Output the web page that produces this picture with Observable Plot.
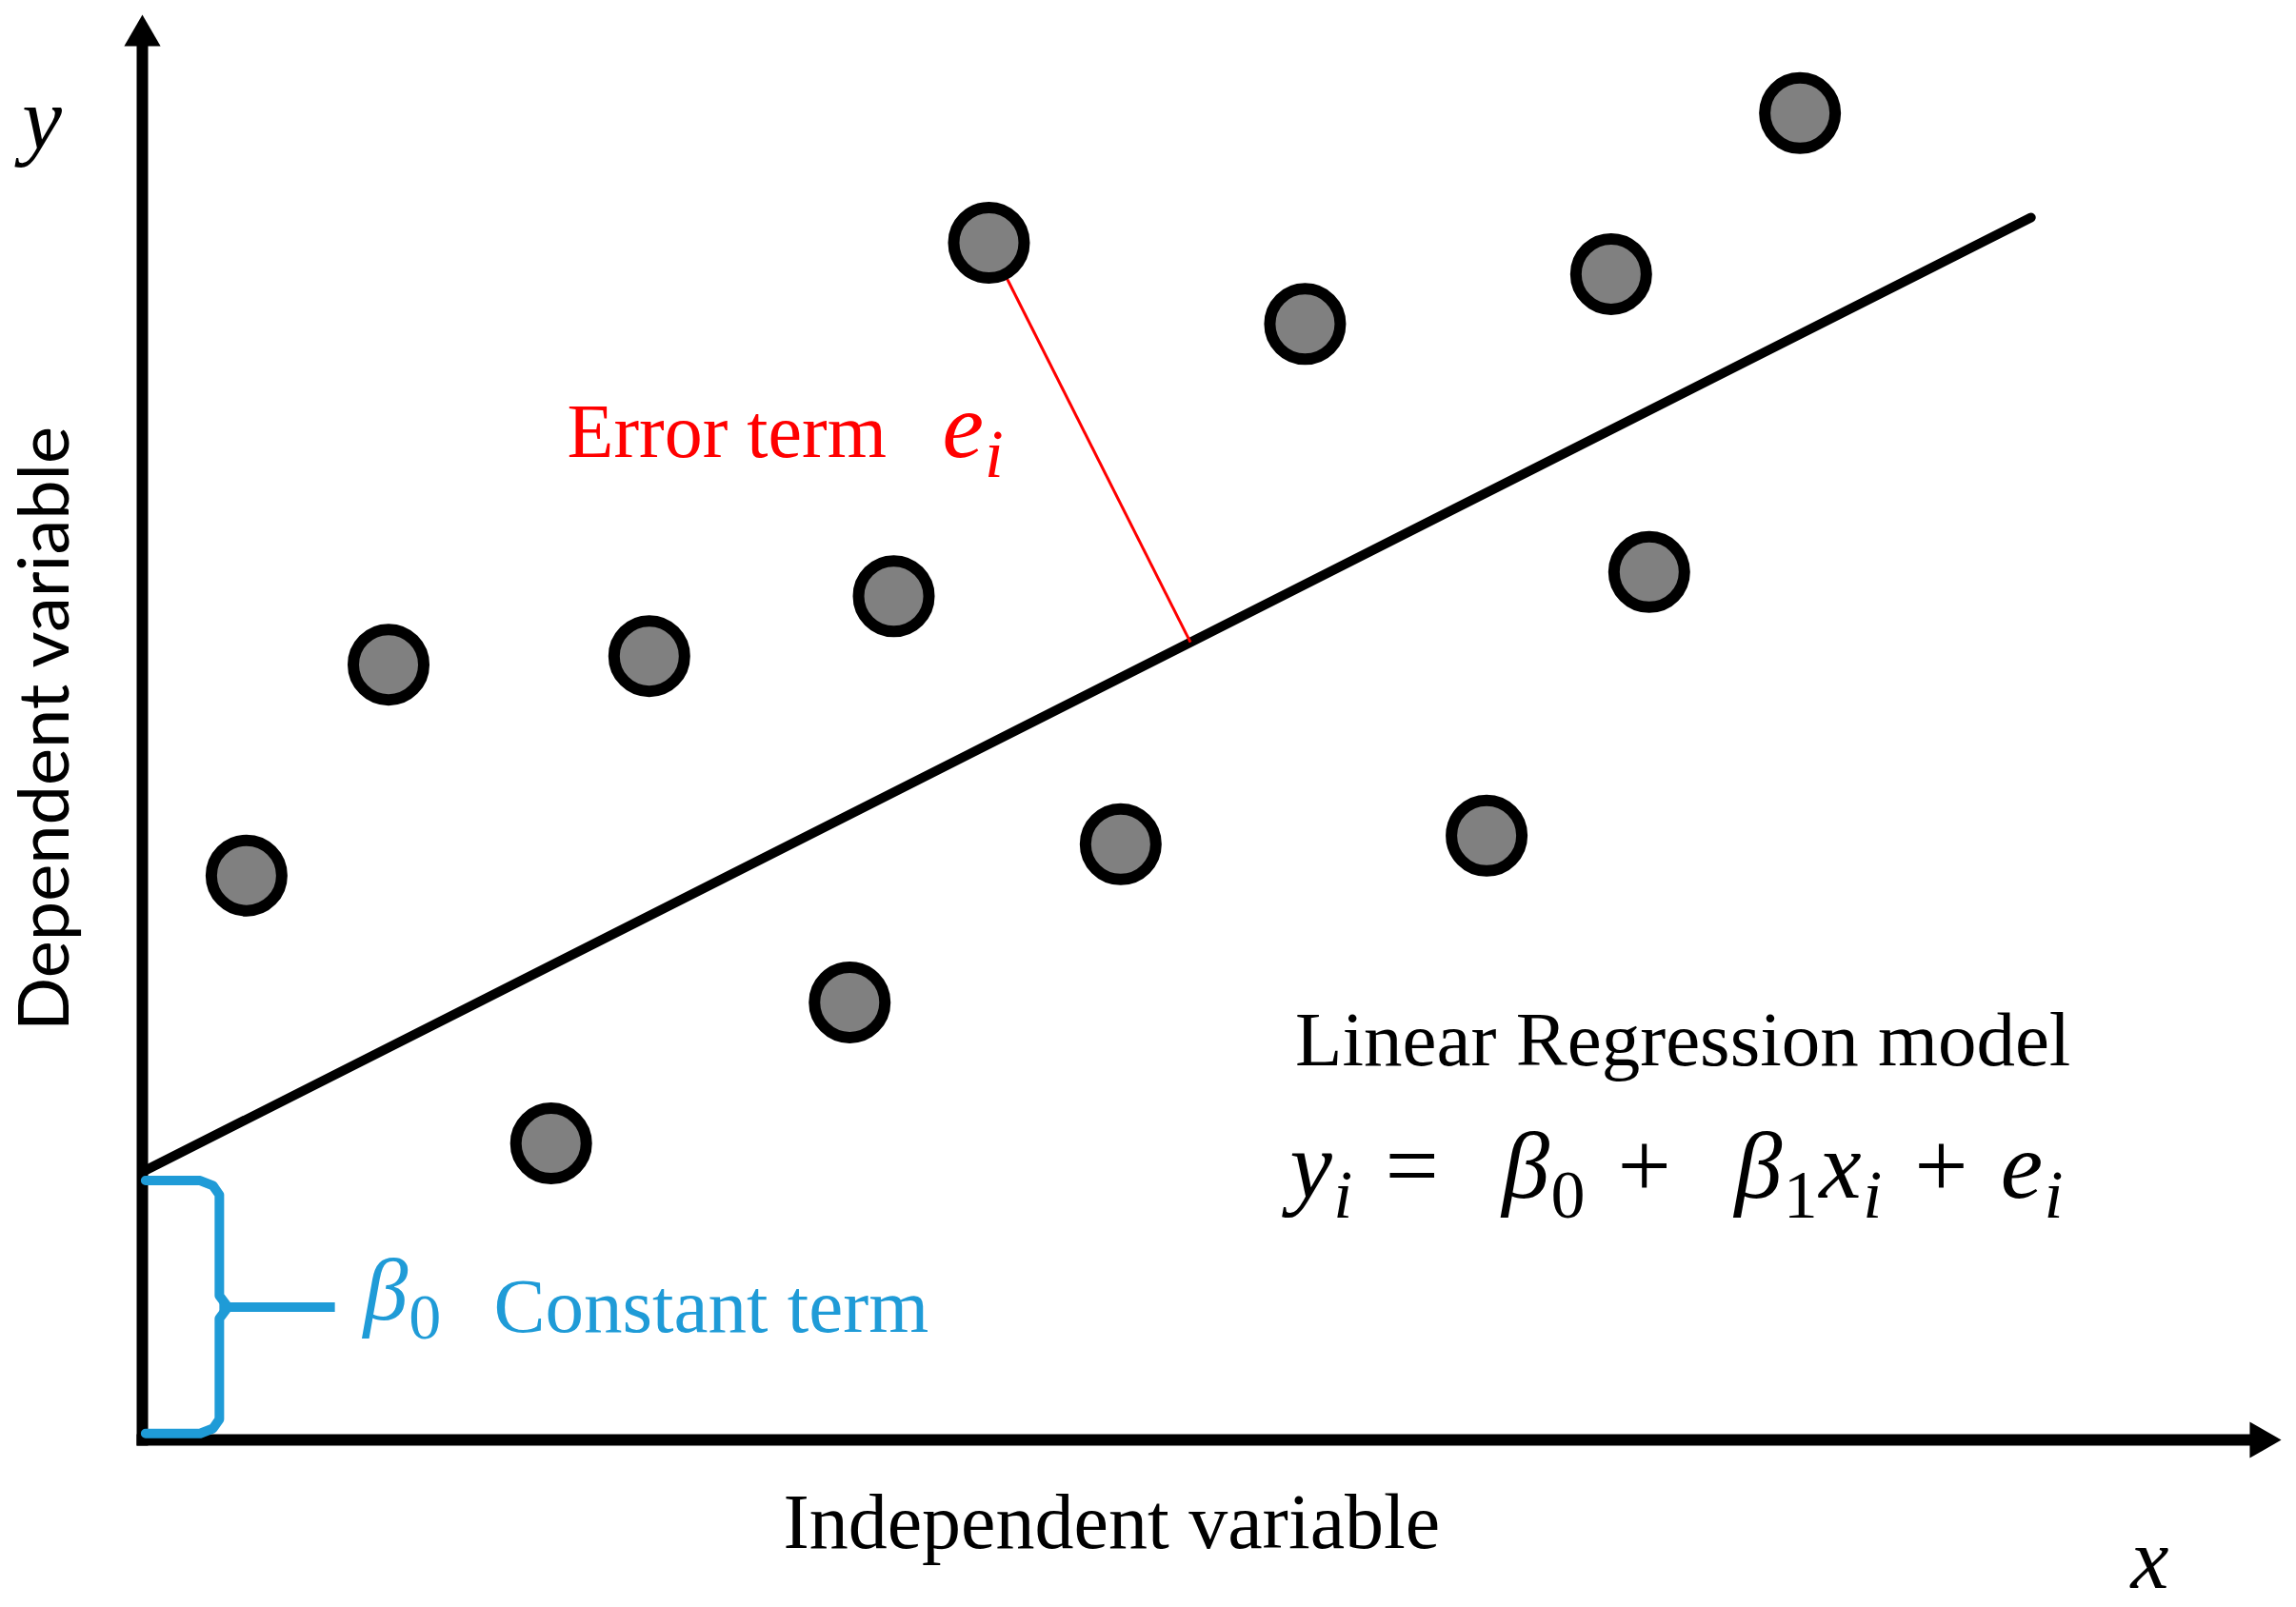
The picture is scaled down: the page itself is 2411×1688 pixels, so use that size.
<!DOCTYPE html>
<html>
<head>
<meta charset="utf-8">
<script src="https://cdn.jsdelivr.net/npm/d3@7"></script>
<script src="https://cdn.jsdelivr.net/npm/@observablehq/plot@0.6"></script>
<style>
  html, body { margin: 0; padding: 0; background: #ffffff; }
  svg text { white-space: pre; }
</style>
</head>
<body>
<div id="chart"></div>
<script>
// ---- data (arbitrary 0-100 units) ----
const pointX = [4.87, 11.51, 19.11, 23.70, 33.07, 35.13, 39.58, 45.74, 54.36, 62.85, 68.67, 70.45, 77.50];
const pointY = [39.6, 54.4, 20.8, 55.0, 30.7, 59.2, 84.0, 41.8, 78.3, 42.4, 81.8, 60.9, 93.1];
const intercept = 18.8;          // beta0
const slope = 0.7585;            // beta1
const fitXExtent = [0, 88.3];
const errorPointIndex = 6;
const errorFootX = 49.0;

// ---- text ----
const yAxisSymbol = "y";
const xAxisSymbol = "x";
const yAxisTitle = "Dependent variable";
const xAxisTitle = "Independent variable";
const errorLabel = "Error term";
const errorSymbol = "e_i";
const modelLabel = "Linear Regression model";
const modelEquation = "y_i =  β_0 +  β_1x_i + e_i";
const constantSymbol = "β_0";
const constantLabel = "Constant term";

// ---- derived tables ----
const points = pointX.map((x, i) => ({x, y: pointY[i]}));
const fitLine = fitXExtent.map(x => ({x, y: intercept + slope * x}));
const ep = points[errorPointIndex];
const errorSeg = [{x1: ep.x, y1: ep.y, x2: errorFootX, y2: intercept + slope * errorFootX}];

const bTop = intercept - 0.6, bBot = 0.45, bX = 3.6, bMid = (bTop + bBot) / 2;
const bracePath = [
  {x: 0.15, y: bTop}, {x: 2.7, y: bTop}, {x: 3.3, y: bTop - 0.35}, {x: bX, y: bTop - 1.0},
  {x: bX, y: bMid + 0.8}, {x: bX + 0.4, y: bMid}, {x: bX, y: bMid - 0.8},
  {x: bX, y: bBot + 1.0}, {x: 3.3, y: bBot + 0.35}, {x: 2.7, y: bBot}, {x: 0.15, y: bBot}
];
const braceTip = [{x1: bX, y1: bMid, x2: 9.0, y2: bMid}];
const axes = [
  {x1: 0, y1: 0, x2: 0, y2: 97.8},
  {x1: 0, y1: 0, x2: 98.5, y2: 0}
];

const SERIF = "Liberation Serif, Times New Roman, serif";
const SANS = "Lato, Open Sans, sans-serif";
const BLUE = "#1f9bd7";
const RED = "#ff0000";

const plot = Plot.plot({
  width: 2411,
  height: 1688,
  margin: 0,
  x: {domain: [0, 100], range: [149, 2395], axis: null},
  y: {domain: [0, 100], range: [1512, 15], axis: null},
  style: {background: "#ffffff", overflow: "visible"},
  marks: [
    Plot.line(fitLine, {x: "x", y: "y", stroke: "black", strokeWidth: 10}),
    Plot.link(errorSeg, {x1: "x1", y1: "y1", x2: "x2", y2: "y2", stroke: RED, strokeWidth: 3}),
    Plot.dot(points, {x: "x", y: "y", r: 37, fill: "#808080", stroke: "black", strokeWidth: 12}),
    Plot.link(axes, {x1: "x1", y1: "y1", x2: "x2", y2: "y2", stroke: "black", strokeWidth: 12, strokeLinecap: "square"}),
    Plot.dot([{x: 0, y: 100}], {x: "x", y: "y", symbol: "triangle", r: 14.2, fill: "black", stroke: "none", dy: 22}),
    Plot.dot([{x: 100, y: 0}], {x: "x", y: "y", symbol: "triangle", r: 14.2, fill: "black", stroke: "none", dx: -22, rotate: 90}),
    Plot.line(bracePath, {x: "x", y: "y", stroke: BLUE, strokeWidth: 10, strokeLinejoin: "round"}),
    Plot.link(braceTip, {x1: "x1", y1: "y1", x2: "x2", y2: "y2", stroke: BLUE, strokeWidth: 10}),

    Plot.text([yAxisSymbol], {x: -5.62, y: 90.6, text: d => d, fontFamily: SERIF, fontSize: 94, textAnchor: "start", lineAnchor: "bottom", fill: "black"}),
    Plot.text([xAxisSymbol], {x: 92.97, y: -10.4, text: d => d, fontFamily: SERIF, fontSize: 90, textAnchor: "start", lineAnchor: "bottom", fill: "black"}),
    Plot.text([yAxisTitle], {x: -3.43, y: 49.9, text: d => d, rotate: -90, fontFamily: SANS, fontSize: 74, textAnchor: "middle", lineAnchor: "bottom", fill: "black"}),
    Plot.text([xAxisTitle], {x: 29.96, y: -7.55, text: d => d, fontFamily: SERIF, fontSize: 82, textAnchor: "start", lineAnchor: "bottom", fill: "black"}),
    Plot.text([errorLabel], {x: 19.86, y: 69.0, text: d => d, fontFamily: SERIF, fontSize: 80, textAnchor: "start", lineAnchor: "bottom", fill: RED}),
    Plot.text([errorSymbol], {x: 37.4, y: 69.0, text: d => d, fontFamily: SERIF, fontSize: 98, textAnchor: "start", lineAnchor: "bottom", fill: RED}),
    Plot.text([modelLabel], {x: 53.9, y: 26.3, text: d => d, fontFamily: SERIF, fontSize: 81, textAnchor: "start", lineAnchor: "bottom", fill: "black"}),
    Plot.text([modelEquation], {x: 53.65, y: 16.97, text: d => d, fontFamily: SERIF, fontSize: 100, textAnchor: "start", lineAnchor: "bottom", fill: "black"}),
    Plot.text([constantSymbol], {x: 10.33, y: 8.42, text: d => d, fontFamily: SERIF, fontSize: 94, textAnchor: "start", lineAnchor: "bottom", fill: BLUE}),
    Plot.text([constantLabel], {x: 16.43, y: 7.55, text: d => d, fontFamily: SERIF, fontSize: 81, textAnchor: "start", lineAnchor: "bottom", fill: BLUE})
  ]
});

document.getElementById("chart").appendChild(plot);

// Math-style rendering: letters italic, "_c" becomes a subscript
const SVGNS = "http://www.w3.org/2000/svg";
function richify(el, letterSpacing, wordSpacing) {
  const s = el.textContent;
  const base = parseFloat(getComputedStyle(el).fontSize) || 88;
  const subSize = Math.round(base * 0.72);
  const shift = Math.round(base * 0.21);
  el.textContent = "";
  if (letterSpacing) el.style.letterSpacing = letterSpacing + "px";
  if (wordSpacing) el.style.wordSpacing = wordSpacing + "px";
  let shifted = false;
  let i = 0;
  while (i < s.length) {
    let ch = s[i], sub = false;
    if (ch === "_" && i + 1 < s.length) { sub = true; ch = s[i + 1]; i += 2; } else { i += 1; }
    const t = document.createElementNS(SVGNS, "tspan");
    t.textContent = ch;
    t.setAttribute("font-size", sub ? subSize : base);
    t.setAttribute("font-style", /[A-Za-z\u03b1-\u03c9]/.test(ch) ? "italic" : "normal");
    if (sub && !shifted) { t.setAttribute("dy", shift); shifted = true; }
    else if (!sub && shifted) { t.setAttribute("dy", -shift); shifted = false; }
    el.appendChild(t);
  }
}
const mathTexts = new Set([yAxisSymbol, xAxisSymbol, errorSymbol, constantSymbol]);
plot.querySelectorAll("text").forEach(el => {
  const s = el.textContent;
  if (s === modelEquation) richify(el, 1.5, 6);
  else if (mathTexts.has(s)) richify(el, 1, 0);
});
</script>
</body>
</html>
